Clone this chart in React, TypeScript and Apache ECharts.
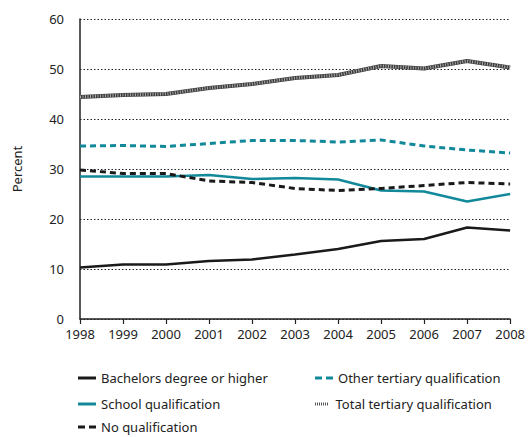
import React, { useEffect, useRef } from "react";
import * as echarts from "echarts";

const years = ["1998", "1999", "2000", "2001", "2002", "2003", "2004", "2005", "2006", "2007", "2008"];
const bachelors = [10.3, 10.9, 10.9, 11.6, 11.9, 12.9, 14.0, 15.6, 16.0, 18.3, 17.7];
const otherTertiary = [34.6, 34.7, 34.5, 35.1, 35.7, 35.7, 35.4, 35.8, 34.6, 33.8, 33.2];
const school = [28.5, 28.5, 28.5, 28.8, 28.0, 28.2, 27.9, 25.7, 25.5, 23.5, 25.0];
const totalTertiary = [44.4, 44.8, 45.0, 46.2, 47.0, 48.2, 48.8, 50.6, 50.1, 51.6, 50.3];
const noQual = [29.8, 29.1, 29.1, 27.6, 27.3, 26.1, 25.7, 26.1, 26.7, 27.3, 27.0];

const FONT = "Noto Sans";
const TEAL = "#12899a";

const ICON_SOLID = "path://M0,0H18V3H0Z";
const ICON_DASH = "path://M0,0H7V3H0ZM11,0H18V3H11Z";
const ICON_STRIPE =
  "path://M3,0H4V3H3ZM5,0H6V3H5ZM7,0H8V3H7ZM9,0H10V3H9ZM11,0H12V3H11ZM13,0H14V3H13ZM15,0H16V3H15Z";

export default function App() {
  const ref = useRef<HTMLDivElement>(null);
  useEffect(() => {
    if (!ref.current) return;
    const chart = echarts.init(ref.current, undefined, { renderer: "svg" });
    const legendText = { fontFamily: FONT, fontSize: 13, color: "#222", lineHeight: 16 };
    const mkLegend = (name: string, icon: string, left: number, top: number) => ({
      left,
      top,
      padding: 0,
      itemWidth: 18,
      itemHeight: 3,
      textStyle: legendText,
      data: [{ name, icon }],
    });
    chart.setOption({
      animation: false,
      textStyle: { fontFamily: FONT },
      grid: { left: 80, right: 15, top: 19, bottom: 118 },
      xAxis: {
        type: "category",
        data: years,
        boundaryGap: false,
        axisLine: { lineStyle: { color: "#222", width: 1.5 } },
        axisTick: { show: true, length: 5, lineStyle: { color: "#222", width: 1.2 } },
        axisLabel: { color: "#222", fontSize: 13, fontFamily: FONT, margin: 8 },
        splitLine: { show: false },
      },
      yAxis: {
        type: "value",
        min: 0,
        max: 60,
        interval: 10,
        name: "Percent",
        nameLocation: "middle",
        nameGap: 57,
        nameTextStyle: { color: "#222", fontSize: 13, fontFamily: FONT },
        axisLine: { show: true, lineStyle: { color: "#222", width: 1.5 } },
        axisTick: { show: false },
        axisLabel: { color: "#222", fontSize: 13, fontFamily: FONT, margin: 16 },
        splitLine: { show: true, lineStyle: { color: "#222", type: [1.5, 2], width: 1 } },
      },
      legend: [
        mkLegend("Bachelors degree or higher", ICON_SOLID, 78, 370),
        mkLegend("School qualification", ICON_SOLID, 78, 396),
        mkLegend("No qualification", ICON_DASH, 78, 419),
        mkLegend("Other tertiary qualification", ICON_DASH, 315, 370),
        mkLegend("Total tertiary qualification", ICON_STRIPE, 315, 396),
      ],
      series: [
        {
          name: "Total tertiary qualification",
          type: "line",
          data: totalTertiary,
          symbol: "none",
          color: "#555",
          lineStyle: { color: "#3c3c3c", width: 4 },
        },
        {
          name: "Total overlay",
          type: "line",
          data: totalTertiary,
          symbol: "none",
          silent: true,
          color: "#aaa",
          lineStyle: { color: "rgba(200,200,200,0.8)", width: 3, type: [1, 1.5] },
        },
        {
          name: "Other tertiary qualification",
          type: "line",
          data: otherTertiary,
          symbol: "none",
          color: TEAL,
          lineStyle: { color: TEAL, width: 3, type: [6, 4] },
        },
        {
          name: "School qualification",
          type: "line",
          data: school,
          symbol: "none",
          color: TEAL,
          lineStyle: { color: TEAL, width: 2.5 },
        },
        {
          name: "No qualification",
          type: "line",
          data: noQual,
          symbol: "none",
          color: "#1a1a1a",
          lineStyle: { color: "#1a1a1a", width: 3, type: [6, 4] },
        },
        {
          name: "Bachelors degree or higher",
          type: "line",
          data: bachelors,
          symbol: "none",
          color: "#1a1a1a",
          lineStyle: { color: "#1a1a1a", width: 2.5 },
        },
      ],
    });
    return () => chart.dispose();
  }, []);
  return <div ref={ref} style={{ width: 528, height: 437, position: "absolute", left: 0, top: 0 }} />;
}
